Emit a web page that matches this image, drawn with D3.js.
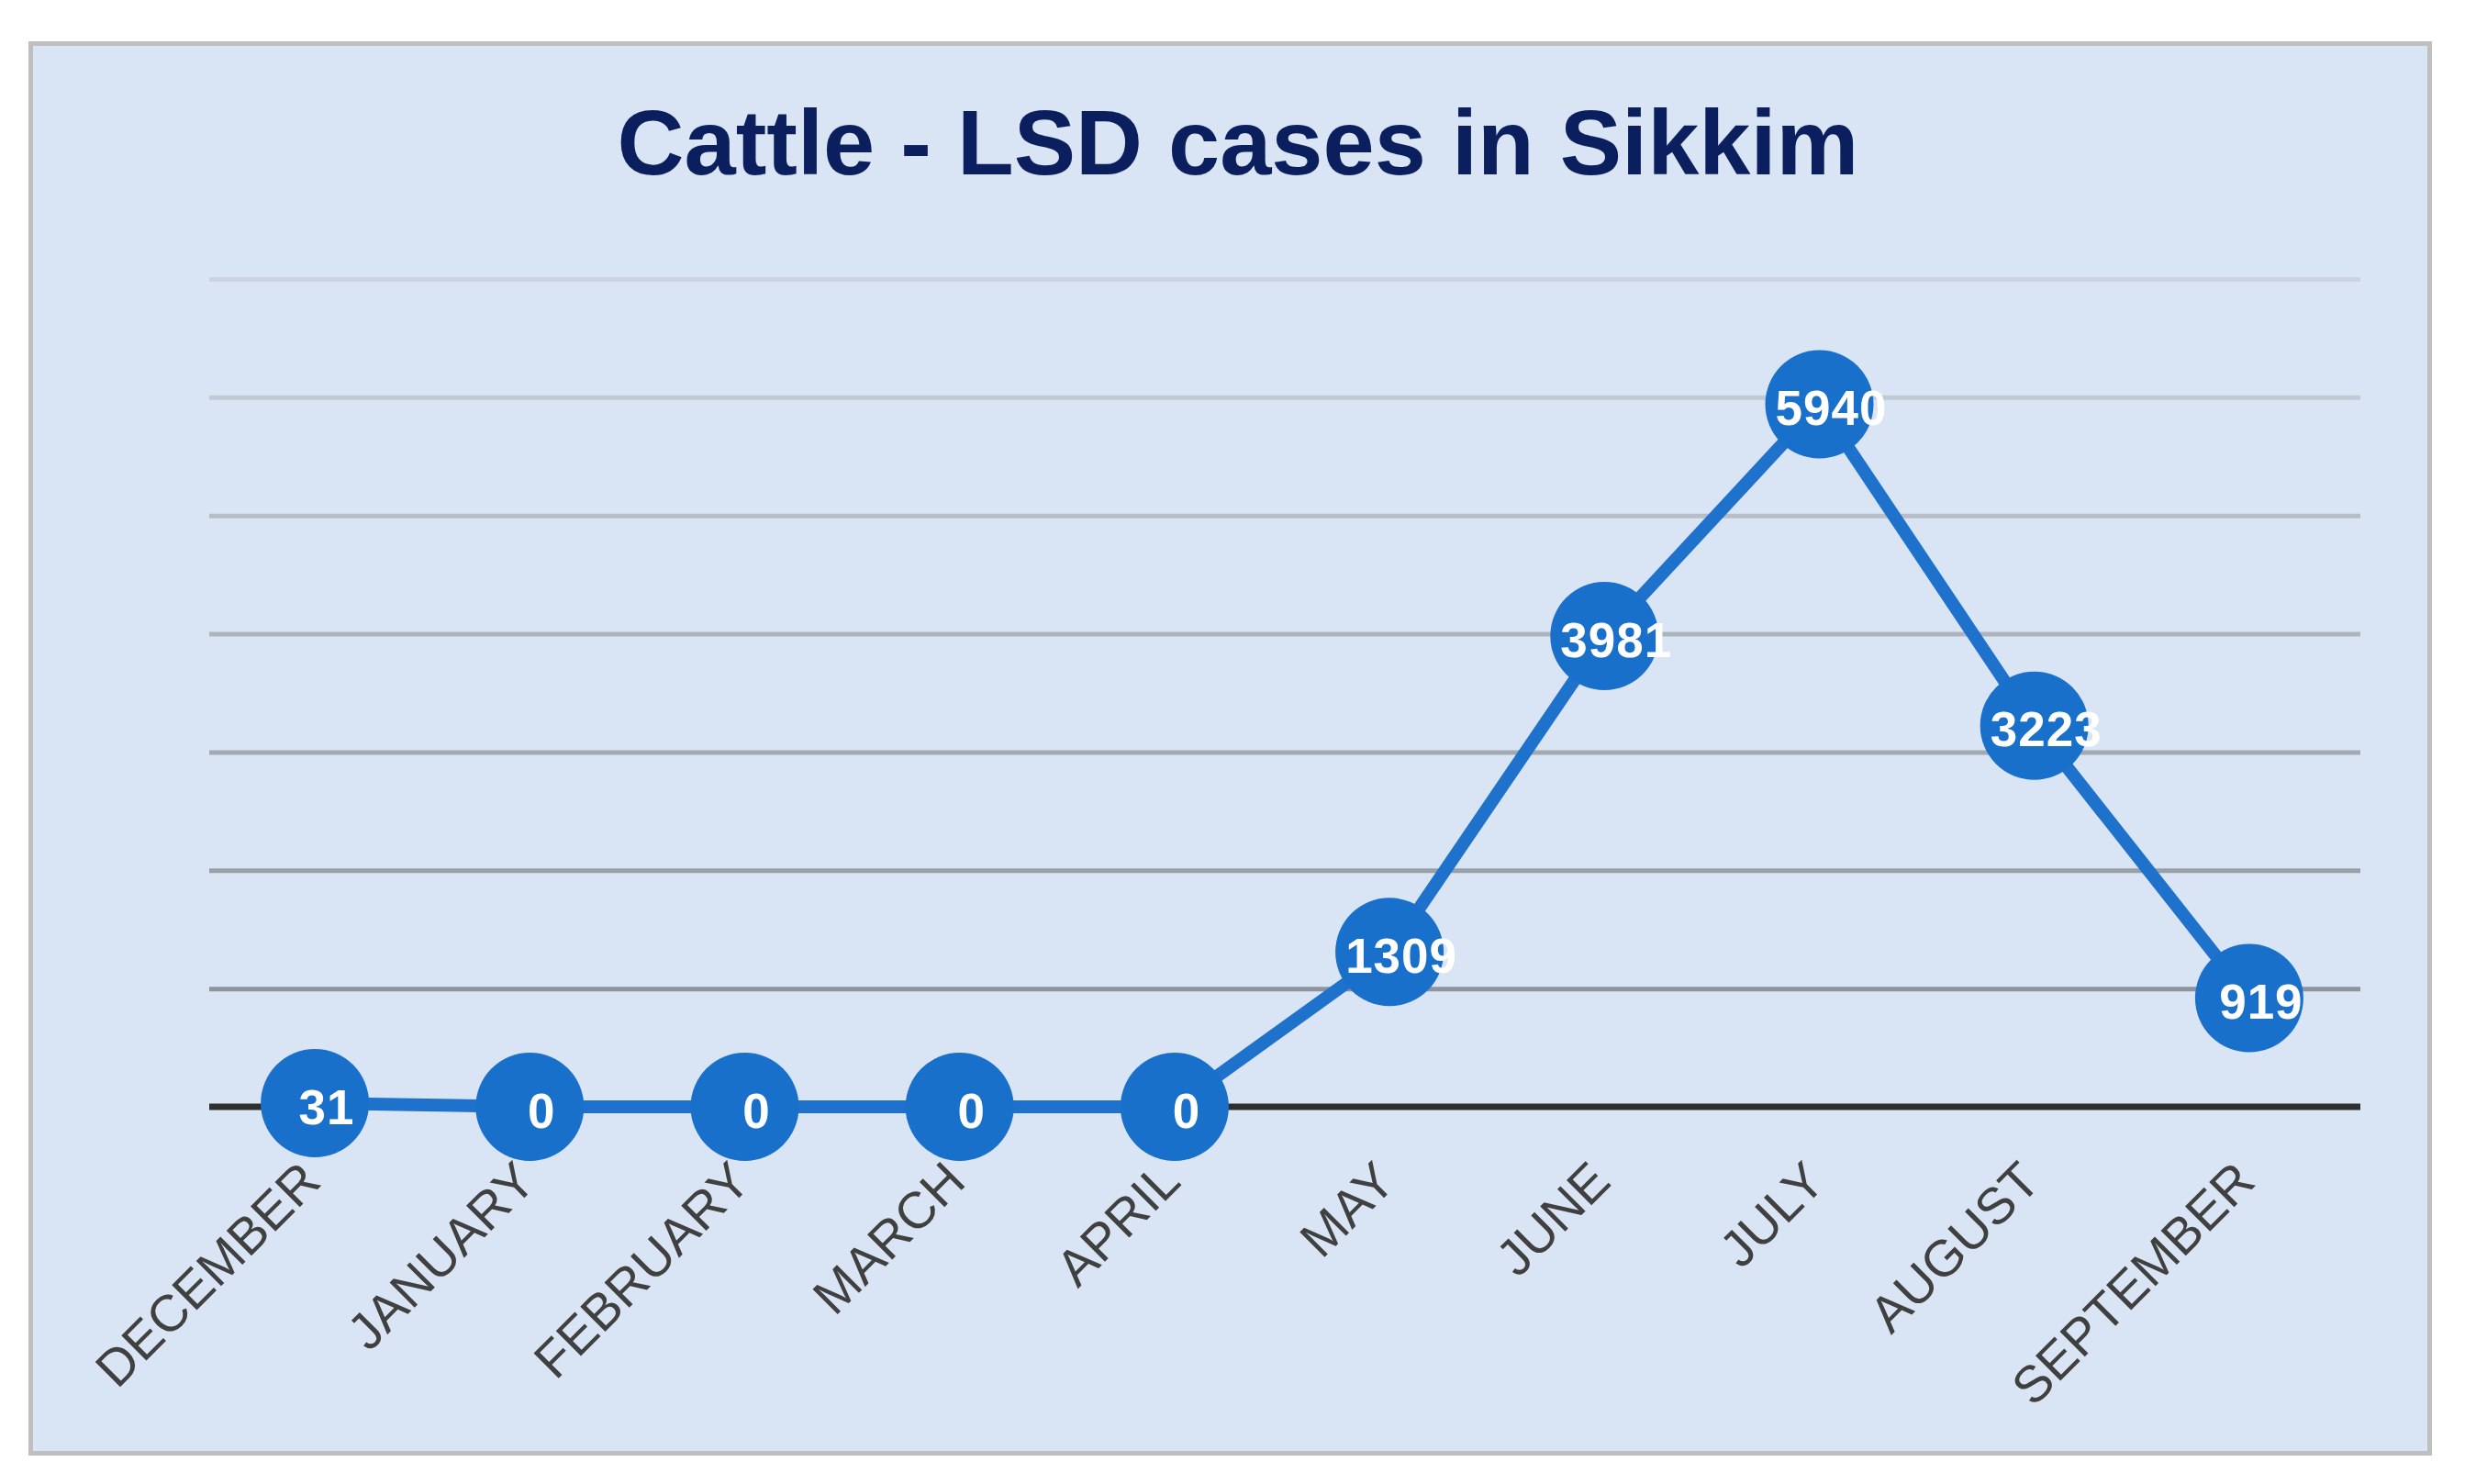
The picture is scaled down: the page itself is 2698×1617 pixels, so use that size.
<!DOCTYPE html>
<html>
<head>
<meta charset="utf-8">
<script src="https://cdn.jsdelivr.net/npm/d3@7"></script>
<style>
  html, body { margin: 0; padding: 0; background: #ffffff; }
  svg { display: block; }
</style>
</head>
<body>
<svg id="chart" width="2698" height="1617"></svg>
<script>
// ---- data ----
const title = "Cattle - LSD cases in Sikkim";
const months = ["DECEMBER", "JANUARY", "FEBRUARY", "MARCH", "APRIL", "MAY", "JUNE", "JULY", "AUGUST", "SEPTEMBER"];
const cases = [31, 0, 0, 0, 0, 1309, 3981, 5940, 3223, 919];
const yTicks = [0, 1000, 2000, 3000, 4000, 5000, 6000, 7000];

// ---- layout ----
const W = 2698, H = 1617;
const plot = { left: 228, right: 2572, top: 304, bottom: 1206 };

const svg = d3.select("#chart");

// frame
svg.append("rect")
  .attr("x", 33.5).attr("y", 47.5)
  .attr("width", 2614).attr("height", 1536)
  .attr("fill", "#d9e5f4")
  .attr("stroke", "#bfbfbf")
  .attr("stroke-width", 5);

// title
svg.append("text")
  .attr("x", 1349).attr("y", 190)
  .attr("text-anchor", "middle")
  .attr("font-family", "'Liberation Sans', Arial, sans-serif")
  .attr("font-weight", "bold")
  .attr("font-size", 101)
  .attr("fill", "#0b1f5e")
  .text(title);

// scales
const x = d3.scaleBand().domain(months).range([226, 2568]);
const xc = d => x(d) + x.bandwidth() / 2;
const y = d3.scaleLinear().domain([0, 7000]).range([plot.bottom, plot.top]);

// gridlines via axis
const gridColor = d3.scaleLinear().domain([1000, 7000]).range(["#8e949d", "#cbd3de"]);
const grid = svg.append("g")
  .attr("transform", `translate(${plot.left},0)`)
  .call(d3.axisLeft(y).tickValues(yTicks.filter(v => v > 0))
    .tickSize(-(plot.right - plot.left)).tickFormat(""));
grid.select(".domain").remove();
grid.selectAll(".tick line")
  .attr("stroke", d => gridColor(d))
  .attr("stroke-width", 5);

// x axis (baseline + rotated labels)
const xAxis = svg.append("g")
  .attr("transform", `translate(0,${y(0)})`)
  .call(d3.axisBottom(x).tickSize(0));
xAxis.select(".domain").remove();
xAxis.append("line")
  .attr("x1", plot.left).attr("x2", plot.right)
  .attr("y1", 0).attr("y2", 0)
  .attr("stroke", "#2e2e2e")
  .attr("stroke-width", 7);
xAxis.selectAll(".tick text")
  .attr("font-family", "'Liberation Sans', Arial, sans-serif")
  .attr("font-size", 56)
  .attr("fill", "#404040")
  .attr("text-anchor", "end")
  .attr("dy", null)
  .attr("y", 0)
  .attr("transform", "translate(9,84) rotate(-45)");

// line
const line = d3.line().x((d, i) => xc(months[i])).y(d => y(d));
svg.append("path")
  .datum(cases)
  .attr("d", line)
  .attr("fill", "none")
  .attr("stroke", "#1f72cc")
  .attr("stroke-width", 14)
  .attr("stroke-linejoin", "round");

// markers
svg.append("g").selectAll("circle")
  .data(cases)
  .join("circle")
  .attr("cx", (d, i) => xc(months[i]))
  .attr("cy", d => y(d))
  .attr("r", 59)
  .attr("fill", "#1870cb");

// data labels
svg.append("g").selectAll("text")
  .data(cases)
  .join("text")
  .attr("x", (d, i) => xc(months[i]) + 13)
  .attr("y", d => y(d) + 4)
  .attr("text-anchor", "middle")
  .attr("dominant-baseline", "central")
  .attr("font-family", "'Liberation Sans', Arial, sans-serif")
  .attr("font-weight", "bold")
  .attr("font-size", 53)
  .attr("letter-spacing", 1)
  .attr("fill", "#ffffff")
  .text(d => d);
</script>
</body>
</html>
